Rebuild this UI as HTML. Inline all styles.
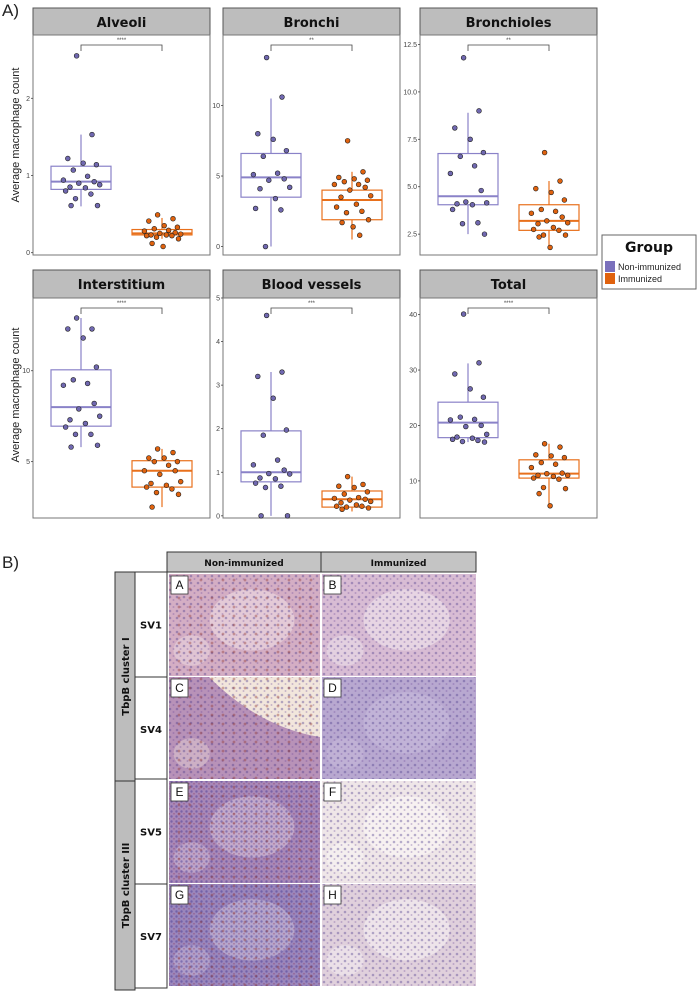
<!DOCTYPE html>
<html><head><meta charset="utf-8"><style>
html,body{margin:0;padding:0;background:#fff;}
svg{display:block;font-family:"Liberation Sans",sans-serif;}
.strip{font-family:"DejaVu Sans","Liberation Sans",sans-serif;font-weight:bold;}
</style></head><body>
<svg id="fig" width="697" height="991" viewBox="0 0 697 991" xmlns="http://www.w3.org/2000/svg">
<defs>
<pattern id="cells" width="7" height="7" patternUnits="userSpaceOnUse"><circle cx="2" cy="2" r="1.3" fill="#4a3a8a" opacity="0.55"/><circle cx="5.5" cy="5" r="1" fill="#6a4a9a" opacity="0.45"/></pattern>
<pattern id="cellsd" width="5" height="5" patternUnits="userSpaceOnUse"><circle cx="1.5" cy="1.5" r="1.2" fill="#3a3090" opacity="0.6"/><circle cx="4" cy="3.8" r="0.9" fill="#8a3050" opacity="0.5"/></pattern>
<pattern id="redc" width="11" height="9" patternUnits="userSpaceOnUse"><circle cx="3" cy="4" r="1.4" fill="#8a2a20" opacity="0.6"/></pattern>
</defs>
<text x="2" y="16" font-size="17" fill="#222">A)</text>
<text transform="translate(19,135) rotate(-90)" text-anchor="middle" font-size="11" fill="#222">Average macrophage count</text>
<text transform="translate(19,395) rotate(-90)" text-anchor="middle" font-size="11" fill="#222">Average macrophage count</text>
<g id="charts"></g>
<g>
<rect x="602" y="235" width="94" height="54" fill="#fff" stroke="#666" stroke-width="1"/>
<text x="649" y="252" text-anchor="middle" font-size="14" font-weight="bold" class="strip" fill="#111">Group</text>
<rect x="605" y="261" width="10" height="11" fill="#7a70bc"/>
<text x="618" y="270" font-size="9" fill="#222">Non-immunized</text>
<rect x="605" y="273" width="10" height="11" fill="#e0620e"/>
<text x="618" y="282" font-size="9" fill="#222">Immunized</text>
</g>
<text x="2" y="568" font-size="17" fill="#222">B)</text>
<g id="micro"></g>
</svg>
<script>
const NS='http://www.w3.org/2000/svg';
function mk(tag,attrs,parent){const e=document.createElementNS(NS,tag);for(const k in attrs)e.setAttribute(k,attrs[k]);parent.appendChild(e);return e;}
const panelTitles=['Alveoli','Bronchi','Bronchioles','Interstitium','Blood vessels','Total'];
const panelStars=['****','**','**','****','***','****'];
const tickLabels=[['0','1','2'],['0','5','10'],['2.5','5.0','7.5','10.0','12.5'],['5','10'],['0','1','2','3','4','5'],['10','20','30','40']];
const tickValues=[[0,1,2],[0,5,10],[2.5,5,7.5,10,12.5],[5,10],[0,1,2,3,4,5],[10,20,30,40]];
const yDomains=[[-0.03,2.82],[-0.6,15.0],[1.4,13.0],[1.9,14.0],[-0.05,5.0],[3.3,43.0]];
const nonPts=[
[2.55,1.53,1.22,1.16,1.14,1.07,0.99,0.94,0.92,0.90,0.88,0.85,0.84,0.80,0.76,0.70,0.61,0.61],
[13.4,10.6,8.0,7.6,6.8,6.4,5.2,5.1,4.8,4.7,4.2,4.1,3.4,2.7,2.6,0.0],
[11.8,9.0,8.1,7.5,6.8,6.6,6.1,5.7,4.8,4.2,4.15,4.1,4.05,3.8,3.1,3.05,2.5],
[12.9,12.3,12.3,11.8,10.2,9.5,9.3,9.2,8.2,7.9,7.5,7.3,7.1,6.9,6.5,6.5,5.9,5.8],
[4.6,3.3,3.2,2.7,1.97,1.85,1.28,1.17,1.05,0.97,0.96,0.87,0.85,0.75,0.68,0.65,0.0,0.0],
[40.1,31.3,29.3,26.6,25.1,21.5,21.1,21.0,20.0,19.8,18.4,17.9,17.7,17.5,17.3,17.1,17.0]];
const immPts=[
[0.49,0.44,0.41,0.35,0.33,0.31,0.29,0.28,0.26,0.25,0.24,0.23,0.23,0.22,0.22,0.20,0.18,0.12,0.08],
[7.5,5.3,4.9,4.8,4.7,4.6,4.4,4.4,4.2,4.0,3.6,3.5,3.0,2.8,2.5,2.4,1.9,1.7,1.4,0.8],
[6.8,5.3,4.9,4.7,4.3,3.8,3.7,3.6,3.4,3.2,3.1,3.05,2.85,2.75,2.7,2.45,2.45,2.35,1.8],
[5.7,5.5,5.2,5.2,5.0,5.0,4.8,4.5,4.5,4.3,3.9,3.8,3.7,3.6,3.5,3.3,3.2,2.5],
[0.9,0.72,0.68,0.65,0.55,0.5,0.42,0.4,0.38,0.36,0.33,0.3,0.25,0.22,0.22,0.2,0.18,0.15],
[16.7,16.1,14.7,14.5,14.2,13.3,13.0,12.4,11.4,11.3,11.0,11.0,10.8,10.5,10.3,8.8,8.6,7.7,5.5]];
// box stats: [whiskerLow, q1, median, q3, whiskerHigh]
const nonBox=[[0.6,0.82,0.92,1.12,1.53],[0,3.5,4.9,6.6,10.5],[2.5,4.05,4.5,6.75,8.9],[5.8,6.95,8.0,10.05,12.9],[0,0.78,1.0,1.95,3.3],[17.0,17.8,20.5,24.2,31.2]];
const immBox=[[0.18,0.23,0.25,0.30,0.45],[0.5,1.9,3.3,4.0,5.3],[1.8,2.7,3.2,4.05,5.3],[2.5,3.6,4.5,5.05,5.7],[0.1,0.2,0.38,0.57,0.9],[5.5,10.5,11.3,13.8,16.7]];
const jit=[-0.2,0.5,-0.6,0.1,0.7,-0.35,0.3,-0.8,0.6,-0.1,0.85,-0.5,0.2,-0.7,0.45,-0.25,0.75,-0.45,0.05,0.35];
const colX=[33,223,420], panelW=177;
const rowY=[[8,35,255],[270,298,518]];
const root=document.getElementById('charts');
panelTitles.forEach((title,i)=>{
  const r=Math.floor(i/3), c=i%3;
  const x0=colX[c], sy=rowY[r][0], py=rowY[r][1], pb=rowY[r][2];
  const g=mk('g',{},root);
  
  
  const [d0,d1]=yDomains[i];
  const Y=v=>pb-(v-d0)/(d1-d0)*(pb-py);
  const strip=mk('rect',{x:x0,y:sy,width:panelW,height:py-sy,fill:'#bdbdbd',stroke:'#555','stroke-width':1},g);
  
  
  const st=mk('text',{x:x0+panelW/2,y:sy+19,'text-anchor':'middle','font-size':13,fill:'#111',class:'strip'},g);
  st.textContent=title;
  
  
  const frame=mk('rect',{x:x0,y:py,width:panelW,height:pb-py,fill:'#fff',stroke:'#777','stroke-width':1},g);
  
  
  tickValues[i].forEach((tv,k)=>{
    const yy=Y(tv);
    const tl=mk('line',{x1:x0-2,x2:x0,y1:yy,y2:yy,stroke:'#444','stroke-width':0.8},g);
    
    
    const tt=mk('text',{x:x0-3,y:yy+2.5,'text-anchor':'end','font-size':7,fill:'#444'},g);
    tt.textContent=tickLabels[i][k];
    
    
  });
  const cx=[x0+48,x0+129];
  const cols=[['#8a82c8','#7068b0'],['#e8701c','#e0620e']];
  [nonBox[i],immBox[i]].forEach((b,gi)=>{
    const bg=mk('g',{},g);
    
    
    const col=cols[gi][0];
    mk('line',{x1:cx[gi],x2:cx[gi],y1:Y(b[0]),y2:Y(b[4]),stroke:col,'stroke-width':1.2},bg);
    mk('rect',{x:cx[gi]-30,y:Y(b[3]),width:60,height:Y(b[1])-Y(b[3]),fill:'#fff',stroke:col,'stroke-width':1.2},bg);
    mk('line',{x1:cx[gi]-30,x2:cx[gi]+30,y1:Y(b[2]),y2:Y(b[2]),stroke:col,'stroke-width':2},bg);
  });
  [nonPts[i],immPts[i]].forEach((pts,gi)=>{
    pts.forEach((v,k)=>{
      const p=mk('circle',{cx:cx[gi]+jit[k%jit.length]*22,cy:Y(v),r:2.4,fill:cols[gi][1],stroke:'#222','stroke-width':0.6},g);
      
      
    });
  });
  const by=py+10;
  const br=mk('path',{d:`M${cx[0]},${by+6}V${by}H${cx[1]}V${by+6}`,fill:'none',stroke:'#444','stroke-width':0.8},g);
  
  
  const s=mk('text',{x:(cx[0]+cx[1])/2,y:by-3,'text-anchor':'middle','font-size':6,fill:'#444'},g);
  s.textContent=panelStars[i];
  
  
});
// Section B
const M=document.getElementById('micro');
function cell(x,y,w,h,fill,name,txt,fs,rot){
  const r=mk('rect',{x,y,width:w,height:h,fill,stroke:'#333','stroke-width':1},M);
  
  
  if(txt){const t=mk('text',{'font-size':fs,fill:'#111',class:'strip','text-anchor':'middle'},M);
    if(rot){t.setAttribute('transform',`translate(${x+w/2+4},${y+h/2}) rotate(-90)`);}
    else{t.setAttribute('x',x+w/2);t.setAttribute('y',y+h/2+4);}
    t.textContent=txt;
    
    }
}
cell(167,552,154,20,'#c4c4c4','header-non-immunized','Non-immunized',9);
cell(321,552,155,20,'#c4c4c4','header-immunized','Immunized',9);
cell(115,572,20,209,'#bdbdbd','strip-tbpb-cluster-i','TbpB cluster I',10,true);
cell(115,781,20,209,'#bdbdbd','strip-tbpb-cluster-iii','TbpB cluster III',10,true);
const rows=[['SV1',574],['SV4',677],['SV5',781],['SV7',884]];
rows.forEach(([n,y],k)=>cell(135,y-(k%2?0:2),32,(k%2?104:105),'#fff','row-label-'+n.toLowerCase(),n,10));
const tiles=[
 ['A',169,574,'#d4aec4','#f3e6ea','url(#cells)',0.5],['B',322,574,'#d8bcd4','#f6eef2','url(#cells)',0.5],
 ['C',169,677,'#b892b8','#f8f0e0','url(#cells)',0.4],['D',322,677,'#b8a8d0','#cfc4e0','url(#cells)',0.4],
 ['E',169,781,'#a888b8','#e8dce8','url(#cellsd)',0.4],['F',322,781,'#efe6e8','#fbf8f6','url(#cells)',0.6],
 ['G',169,884,'#9a86bc','#e8e0ec','url(#cellsd)',0.35],['H',322,884,'#e0d0dc','#f6f2f4','url(#cells)',0.6]];
tiles.forEach(([L,x,y,c1,c2,pat,op])=>{
  const g=mk('g',{},M);
  
  
  const w=L.charCodeAt(0)%2?151:154, h=102;
  mk('rect',{x,y,width:w,height:h,fill:c1},g);
  if(L==='C') mk('path',{d:`M${x+40},${y}H${x+w}V${y+60}Q${x+90},${y+50} ${x+40},${y}Z`,fill:c2,opacity:0.9},g);
  else mk('ellipse',{cx:x+w*0.55,cy:y+h*0.45,rx:w*0.28,ry:h*0.3,fill:c2,opacity:op},g);
  mk('ellipse',{cx:x+w*0.15,cy:y+h*0.75,rx:w*0.12,ry:h*0.15,fill:c2,opacity:op*0.8},g);
  mk('rect',{x,y,width:w,height:h,fill:pat,opacity:0.7},g);
  if('ACEG'.includes(L)) mk('rect',{x,y,width:w,height:h,fill:'url(#redc)',opacity:0.6},g);
  const lb=mk('rect',{x:x+2,y:y+2,width:17,height:18,fill:'#fff',stroke:'#333','stroke-width':0.8},g);
  
  
  const lt=mk('text',{x:x+10.5,y:y+15,'text-anchor':'middle','font-size':12,fill:'#111'},g);
  lt.textContent=L;
  
  
});
</script>
</body></html>
